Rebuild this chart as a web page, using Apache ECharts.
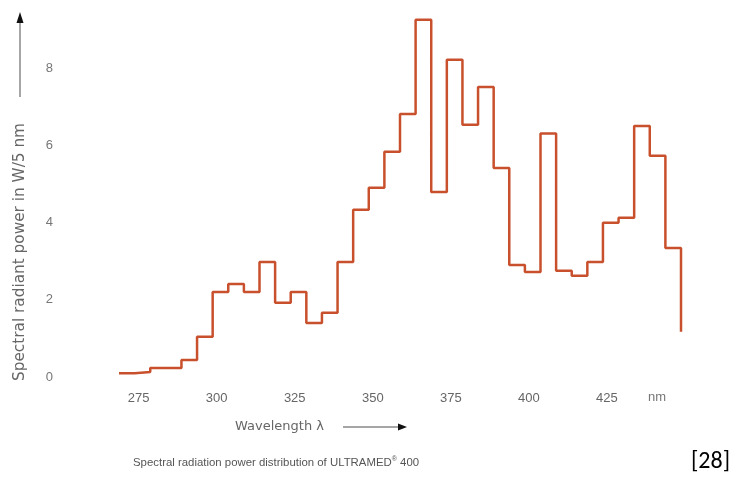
<!DOCTYPE html>
<html>
<head>
<meta charset="utf-8">
<script src="https://cdn.jsdelivr.net/npm/echarts@6/dist/echarts.min.js"></script>
<style>
html,body{margin:0;padding:0;background:#fff;}
#chart{width:739px;height:479px;}
</style>
</head>
<body>
<div id="chart"></div>
<script>
// Bin start wavelengths (nm), 5 nm bins
const wavelengths = [270,275,280,285,290,295,300,305,310,315,320,325,330,335,340,345,350,355,360,365,370,375,380,385,390,395,400,405,410,415,420,425,430,435,440,445];
// Spectral radiant power per bin (W/5 nm)
const power = [0.10,0.13,0.23,0.23,0.44,1.04,2.20,2.41,2.20,2.98,1.92,2.20,1.40,1.66,2.98,4.33,4.90,5.83,6.81,9.25,4.79,8.21,6.53,7.51,5.41,2.90,2.72,6.30,2.75,2.62,2.98,3.99,4.12,6.50,5.73,3.34];
const endWavelength = 450;
const endValue = 1.17;
const xTickValues = [275,300,325,350,375,400,425];
const xUnitLabel = 'nm';
const yTickLabels = ['0','2','4','6','8'];
const yAxisTitle = 'Spectral radiant power in W/5 nm';
const xAxisTitle = 'Wavelength \u03bb';
const caption = 'Spectral radiation power distribution of ULTRAMED';
const captionTail = ' 400';
const refLabel = '[28]';

const stepData = wavelengths.map((w, i) => [w, power[i]]);
stepData.push([endWavelength, power[power.length - 1]]);
stepData.push([endWavelength, endValue]);

const chart = echarts.init(document.getElementById('chart'), null, {renderer: 'canvas'});
const labelFont = 'Liberation Sans';
chart.setOption({
  animation: false,
  backgroundColor: '#ffffff',
  grid: {left: 119, right: 58, top: 10, bottom: 102},
  xAxis: {
    type: 'value', min: 270, max: 450,
    axisLine: {show: false}, axisTick: {show: false}, splitLine: {show: false},
    axisLabel: {
      customValues: xTickValues,
      color: '#666', fontSize: 13, fontFamily: labelFont,
      margin: 15, padding: [0, 0, 0, 8]
    }
  },
  yAxis: {
    type: 'value', min: 0, max: 9.5, interval: 2,
    axisLine: {show: false}, axisTick: {show: false}, splitLine: {show: false},
    axisLabel: {
      color: '#777', fontSize: 13, fontFamily: labelFont, margin: 66,
      formatter: function (v) { const i = yTickLabels.indexOf(String(v)); return i >= 0 ? yTickLabels[i] : ''; }
    }
  },
  series: [{
    type: 'line', step: 'end', data: stepData, showSymbol: false,
    lineStyle: {color: '#c9502c', width: 2.5}
  }],
  graphic: [
    {type: 'text', left: 648, top: 391, style: {text: xUnitLabel, fill: '#777', font: '13px ' + labelFont}},
    {type: 'text', x: 20, y: 252, rotation: Math.PI / 2,
      style: {text: yAxisTitle, fill: '#666', font: '15.3px "DejaVu Sans"', textAlign: 'center', textVerticalAlign: 'middle'}},
    {type: 'line', shape: {x1: 20, y1: 97, x2: 20, y2: 22}, style: {stroke: '#888', lineWidth: 1.5}},
    {type: 'polygon', shape: {points: [[20, 12], [16.5, 23], [23.5, 23]]}, style: {fill: '#111'}},
    {type: 'text', left: 235, top: 420, style: {text: xAxisTitle, fill: '#666', font: '13px "DejaVu Sans"'}},
    {type: 'line', shape: {x1: 343, y1: 427, x2: 400, y2: 427}, style: {stroke: '#888', lineWidth: 1.5}},
    {type: 'polygon', shape: {points: [[407, 427], [398, 423.5], [398, 430.5]]}, style: {fill: '#111'}},
    {type: 'text', left: 133, top: 456, style: {
      text: '{a|' + caption + '}{s|\u00ae}{a|' + captionTail + '}',
      rich: {
        a: {fill: '#555', font: '11.4px ' + labelFont},
        s: {fill: '#555', font: '7px ' + labelFont, verticalAlign: 'top', padding: [0, 0, 6, 0]}
      }
    }},
    {type: 'text', left: 691, top: 450, style: {text: refLabel, fill: '#000', font: '24px "Carlito", "Liberation Sans"'}}
  ]
});
</script>
</body>
</html>
